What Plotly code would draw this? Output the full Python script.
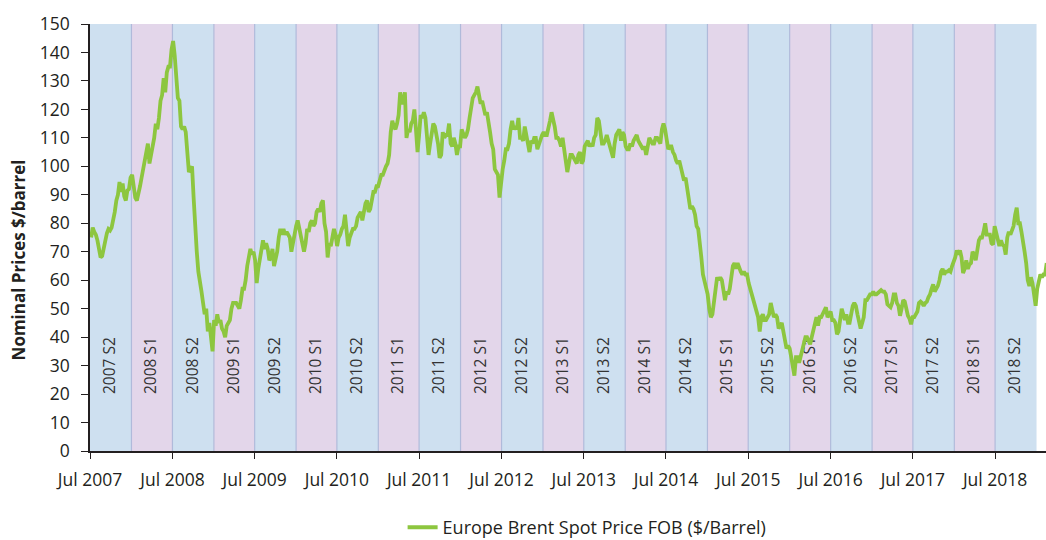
import pandas as pd
import plotly.graph_objects as go

# Weekly Europe Brent spot price (USD/barrel)
prices_2007 = [75, 78.5, 77, 76, 74, 70.5, 68, 68.5, 71.5, 74, 76.5, 78, 77.5, 78.5, 81, 84, 88, 90, 94.5, 91,
               94, 89.5, 88, 91.5, 92, 96]
prices_2008 = [97, 93, 89, 88, 90, 93, 96, 99, 101, 104, 108, 101, 104, 106, 110, 115, 113, 117, 123, 125,
               131, 126, 133, 135, 135, 141, 144, 139, 129, 124, 123, 114, 113, 114, 112, 105, 98, 99, 100, 89,
               77, 70, 63, 60, 56, 52, 48, 50, 42, 45, 40, 35]
prices_2009 = [46, 44, 48, 45, 46, 43, 42, 40, 44, 45, 46, 50, 52, 52, 52, 51, 50, 53, 57, 57,
               60, 65, 68, 71, 69, 70, 67, 59, 64, 68, 72, 74, 71, 73, 71, 67, 68, 71, 65, 67,
               70, 75, 78, 76, 78, 76, 77, 76, 75, 70, 73, 77]
prices_2010 = [79, 81, 78, 75, 72, 70, 73, 78, 77, 80, 81, 79, 80, 84, 85, 84, 87, 88, 80, 77,
               68, 73, 72, 75, 78, 76, 72, 75, 76, 78, 79, 83, 76, 72, 75, 77, 78, 78, 79, 82,
               83, 84, 81, 84, 87, 88, 84, 85, 89, 91, 91, 93, 93]
prices_2011 = [95, 97, 97, 99, 100, 101, 104, 112, 116, 114, 113, 115, 118, 126, 122, 123, 126, 110, 113, 112,
               115, 116, 120, 113, 105, 111, 118, 117, 119, 117, 108, 104, 108, 111, 115, 114, 111, 108, 103, 104,
               112, 110, 111, 111, 115, 108, 107, 110, 108, 104, 107, 107]
prices_2012 = [113, 111, 110, 111, 113, 117, 120, 124, 125, 126, 128, 124, 122, 123, 121, 118, 119, 114, 112, 108,
               106, 99, 98, 97, 89, 95, 99, 102, 106, 106, 108, 113, 116, 113, 114, 113, 117, 110, 110, 109,
               114, 111, 107, 105, 109, 108, 110, 110, 106, 108, 109, 111]
prices_2013 = [112, 111, 111, 113, 116, 119, 117, 114, 110, 110, 109, 107, 110, 106, 103, 98, 101, 104, 104, 103,
               102, 101, 104, 105, 101, 102, 107, 108, 109, 107, 108, 107, 110, 111, 117, 116, 112, 108, 108, 109,
               111, 109, 106, 105, 103, 108, 111, 112, 113, 109, 112, 111]
prices_2014 = [107, 106, 106, 108, 107, 109, 110, 111, 109, 108, 107, 106, 107, 104, 107, 110, 109, 108, 108, 110,
               110, 109, 108, 113, 115, 113, 110, 106, 107, 107, 105, 104, 102, 101, 102, 100, 97, 95, 96, 92,
               88, 85, 86, 85, 83, 79, 78, 71, 68, 62, 60, 57]
prices_2015 = [55, 50, 47, 48, 52, 57, 61, 60, 61, 60, 55, 53, 56, 55, 57, 62, 65, 66, 64, 66,
               64, 63, 62, 63, 62, 62, 59, 57, 55, 54, 51, 49, 47, 42, 47, 48, 46, 46, 47, 48,
               52, 50, 47, 48, 47, 43, 44, 45, 42, 38, 36, 37]
prices_2016 = [36, 33, 29, 26.5, 33, 33, 31, 33, 35, 38, 40, 40, 39, 37.5, 40, 42, 44, 47, 44, 47,
               47, 48, 49, 50.5, 47, 48, 49, 46, 46, 45, 41, 42, 47, 50, 48, 46, 48, 45, 45, 48,
               51, 52, 51, 48, 45, 43, 45, 47, 53, 53, 54, 55, 55]
prices_2017 = [56, 55, 55, 55.5, 56, 56.5, 56, 56, 55, 51.5, 51, 50.5, 52, 55, 55, 52, 51, 47.5, 50, 53,
               52.5, 49, 47.5, 46.5, 44.5, 47, 47, 48, 49, 52, 52.5, 52, 51, 52, 52.5, 54, 55, 57, 58.5, 56,
               57, 58, 60, 63, 64, 62, 63, 63, 63.5, 63, 65, 66.5]
prices_2018 = [68, 70.5, 69, 70.5, 68, 62.5, 64, 67, 64, 65.5, 66, 70, 69, 67, 72, 74, 75, 75, 77, 80,
               76, 76, 76, 73, 72.5, 79, 77, 75, 72, 74, 72.5, 72, 69, 75, 77, 76, 78, 79, 83, 85.5,
               80, 80, 77, 72, 70, 66, 60, 58, 61, 59, 54, 51]
prices_2019 = [57, 60.5, 62, 61, 62, 62, 66]

yearly = {2007: prices_2007, 2008: prices_2008, 2009: prices_2009, 2010: prices_2010,
          2011: prices_2011, 2012: prices_2012, 2013: prices_2013, 2014: prices_2014,
          2015: prices_2015, 2016: prices_2016, 2017: prices_2017, 2018: prices_2018,
          2019: prices_2019}

period_labels = ["2007 S2", "2008 S1", "2008 S2", "2009 S1", "2009 S2", "2010 S1", "2010 S2",
                 "2011 S1", "2011 S2", "2012 S1", "2012 S2", "2013 S1", "2013 S2", "2014 S1",
                 "2014 S2", "2015 S1", "2015 S2", "2016 S1", "2016 S2", "2017 S1", "2017 S2",
                 "2018 S1", "2018 S2"]

tick_vals = [f"{y}-07-01" for y in range(2007, 2019)]
tick_text = [f"Jul {y}" for y in range(2007, 2019)]

series_name = "Europe Brent Spot Price FOB ($/Barrel)"

dates, prices = [], []
for yr, vals in yearly.items():
    start = "2007-07-01" if yr == 2007 else f"{yr}-01-01"
    d = pd.date_range(start, periods=len(vals), freq="W-FRI")
    dates.extend(d)
    prices.extend(vals)

BLUE = "rgb(206,224,240)"
PURPLE = "rgb(227,214,234)"
EDGE = "rgb(176,186,218)"
FONT = "Open Sans"
TXT = "#231f20"

shapes = []
for i, lab in enumerate(period_labels):
    yr = int(lab[:4])
    half = lab[-2:]
    s = pd.Timestamp(f"{yr}-07-01") if half == "S2" else pd.Timestamp(f"{yr}-01-01")
    e = pd.Timestamp(f"{yr + 1}-01-01") if half == "S2" else pd.Timestamp(f"{yr}-07-01")
    shapes.append(dict(type="rect", xref="x", yref="y", x0=s, x1=e, y0=0, y1=150,
                       fillcolor=BLUE if half == "S2" else PURPLE, line=dict(width=0), layer="below"))
    if i > 0:
        shapes.append(dict(type="line", xref="x", yref="y", x0=s, x1=s, y0=0, y1=150,
                           line=dict(color=EDGE, width=1.2), layer="below"))
    shapes.append(dict(type="rect", xref="x", yref="y", x0=s, x1=e, y0=0, y1=60,
                       fillcolor="rgba(0,0,0,0)", line=dict(width=0), layer="below",
                       label=dict(text=lab, textangle=-90, textposition="middle center",
                                  font=dict(family=FONT, size=15.5, color="#333333"))))

fig = go.Figure()
fig.add_trace(go.Scatter(x=dates, y=prices, mode="lines", name=series_name,
                         line=dict(color="#8dc63f", width=3.8)))

fig.update_layout(
    width=1046, height=540,
    margin=dict(l=90, r=0, t=24, b=89, autoexpand=False),
    paper_bgcolor="white", plot_bgcolor="white",
    font=dict(family=FONT, size=17.5, color=TXT),
    shapes=shapes,
    showlegend=True,
    legend=dict(orientation="h", x=0.327, xanchor="left", y=-0.136, yanchor="top",
                font=dict(family=FONT, size=18, color=TXT)),
    annotations=[dict(text="<b>Nominal Prices $/barrel</b>", textangle=-90, xref="paper", yref="paper",
                      x=-0.075, y=0.447, showarrow=False, xanchor="center", yanchor="middle",
                      font=dict(family=FONT, size=17, color=TXT))],
)
fig.update_xaxes(type="date", range=["2007-07-01", "2019-02-12"], tickvals=tick_vals, ticktext=tick_text,
                 ticks="outside", ticklen=6, tickcolor=TXT, showline=True, linecolor=TXT,
                 linewidth=1.5, showgrid=False, zeroline=False, ticklabelstandoff=6)
fig.update_yaxes(range=[0, 150], dtick=10, tick0=0, ticks="outside", ticklen=7, tickcolor=TXT,
                 showline=True, linecolor=TXT, linewidth=1.5, showgrid=False, zeroline=False,
                 ticklabelstandoff=8)

fig.write_html("out.html", config={"displayModeBar": False},
               post_script="document.body.style.margin='0';document.body.style.overflow='hidden';")
